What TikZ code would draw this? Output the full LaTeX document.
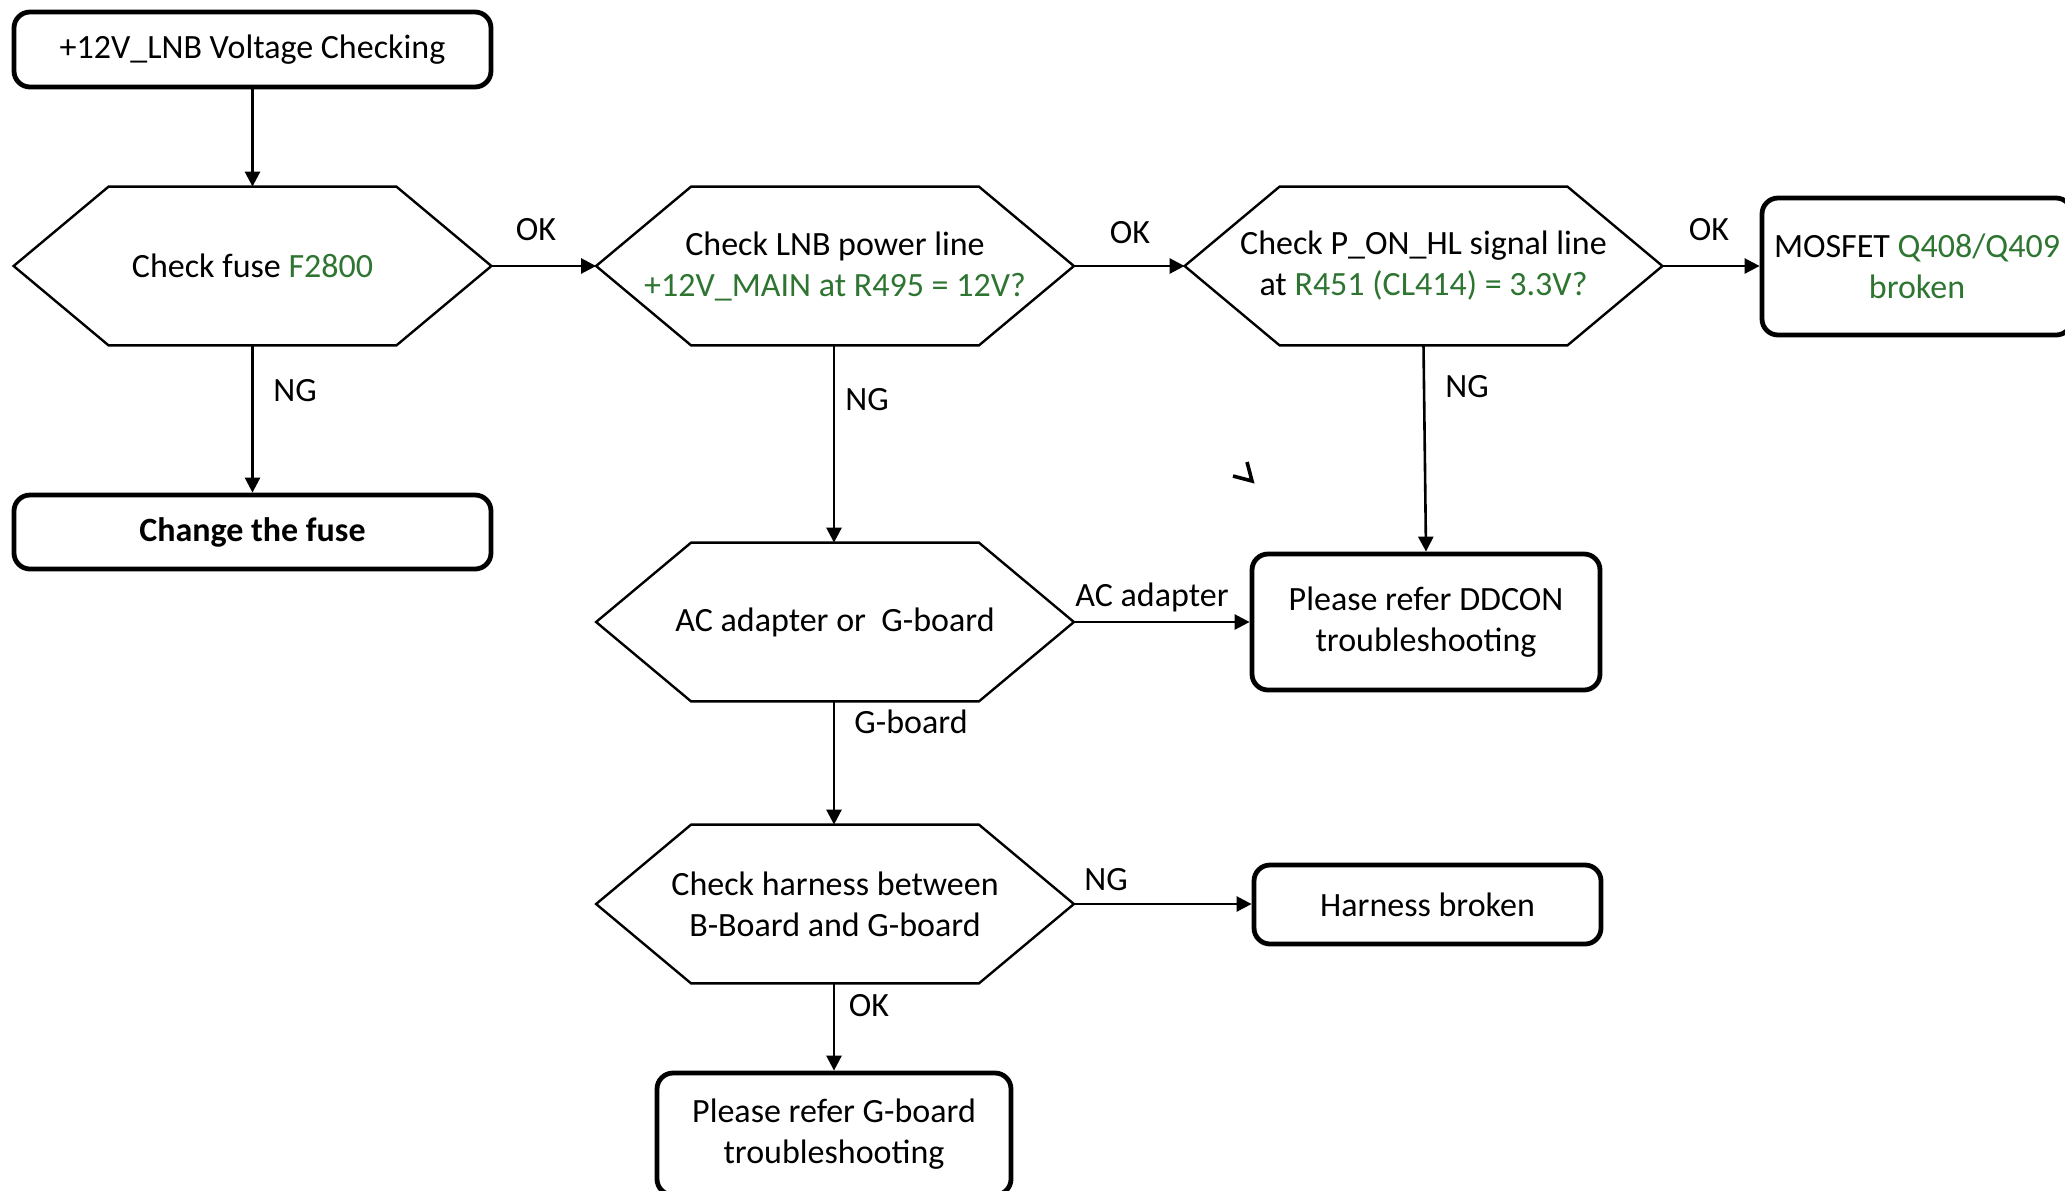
\documentclass[tikz,border=0pt]{standalone}
\usepackage{fontspec}
\setmainfont{Carlito}
\usetikzlibrary{arrows.meta}
\definecolor{grn}{RGB}{47,117,50}
\tikzset{
  base/.style={font=\fontsize{17pt}{20.5pt}\selectfont, align=center, inner sep=0pt},
  termbox/.style={base, draw, line width=2.4pt, rounded corners=8pt},
  hexnode/.style={base, minimum width=238.5pt, minimum height=79pt},
  conn/.style={line width=1.3pt, -{Triangle[length=7.5pt,width=7.5pt]}},
  lbl/.style={font=\fontsize{17pt}{20.5pt}\selectfont, inner sep=0pt}
}
\newcommand{\hexdraw}[1]{%
  \draw[line width=1.2pt] (#1.west) -- ([xshift=47.5pt]#1.north west) -- ([xshift=-47.5pt]#1.north east)
    -- (#1.east) -- ([xshift=-47.5pt]#1.south east) -- ([xshift=47.5pt]#1.south west) -- cycle;}
\begin{document}
\begin{tikzpicture}[x=0.5pt,y=-0.5pt]
\useasboundingbox (0,0) rectangle (2065,1190);
\begin{scope}
\clip (0,0) rectangle (2065,1190);
% terminal boxes
\node[termbox, minimum width=238.5pt, minimum height=37.5pt] (start) at (252.5,49.5) {+12V\_LNB Voltage Checking};
\node[termbox, minimum width=238.5pt, minimum height=37pt] (fuse) at (252.5,532) {\bfseries Change the fuse};
\node[termbox, minimum width=155pt, minimum height=68.5pt] (mosfet) at (1917,266.5) {MOSFET \textcolor{grn}{Q408/Q409}\\\textcolor{grn}{broken}};
\node[termbox, minimum width=174pt, minimum height=68pt] (ddcon) at (1426,622) {Please refer DDCON\\troubleshooting};
\node[termbox, minimum width=173.5pt, minimum height=39.5pt] (harness) at (1427.5,904.5) {Harness broken};
\node[termbox, minimum width=177pt, minimum height=61pt] (gboard) at (834,1134) {Please refer G-board\\troubleshooting};
% hexagons
\node[hexnode] (fusechk) at (252.5,266) {Check fuse \textcolor{grn}{F2800}};
\hexdraw{fusechk}
\node[hexnode] (lnb) at (835,266) {Check LNB power line\\\textcolor{grn}{+12V\_MAIN at R495 = 12V?}};
\hexdraw{lnb}
\node[hexnode] (pon) at (1423.5,266) {Check P\_ON\_HL signal line\\at \textcolor{grn}{R451 (CL414) = 3.3V?}};
\hexdraw{pon}
\node[hexnode] (acg) at (835,622) {AC adapter or\ \ G-board};
\hexdraw{acg}
\node[hexnode] (harn) at (835,904) {Check harness between\\B-Board and G-board};
\hexdraw{harn}
% connectors
\draw[conn] (start.south) -- (fusechk.north);
\draw[conn] (fusechk.east) -- (lnb.west);
\draw[conn] (lnb.east) -- (pon.west);
\draw[conn] (pon.east) -- (pon.east -| mosfet.west);
\draw[conn] (fusechk.south) -- (fuse.north);
\draw[conn] ([xshift=-0.5pt]lnb.south) -- ([xshift=-0.5pt]acg.north);
\draw[conn] (pon.south) -- (ddcon.north);
\draw[conn] (acg.east) -- (ddcon.west);
\draw[conn] ([xshift=-0.5pt]acg.south) -- ([xshift=-0.5pt]harn.north);
\draw[conn] (harn.east) -- (harn.east -| harness.west);
\draw[conn] ([xshift=-0.5pt]harn.south) -- (gboard.north);
% labels
\node[lbl] (l1) at (536,230) {OK};
\node[lbl] (l2) at (1130,233) {OK};
\node[lbl] (l3) at (1709,230) {OK};
\node[lbl] (l4) at (295,391) {NG};
\node[lbl] (l5) at (867,400) {NG};
\node[lbl] (l6) at (1467,387) {NG};
\node[lbl] (l7) at (1152,597) {AC adapter};
\node[lbl] (l8) at (911,722) {G-board};
\node[lbl] (l9) at (1106,880) {NG};
\node[lbl] (l10) at (869,1006) {OK};
% stray mark
\draw[line width=1.8pt] (1247,462) -- (1252,481) -- (1233,476);
\end{scope}
\end{tikzpicture}
\end{document}
